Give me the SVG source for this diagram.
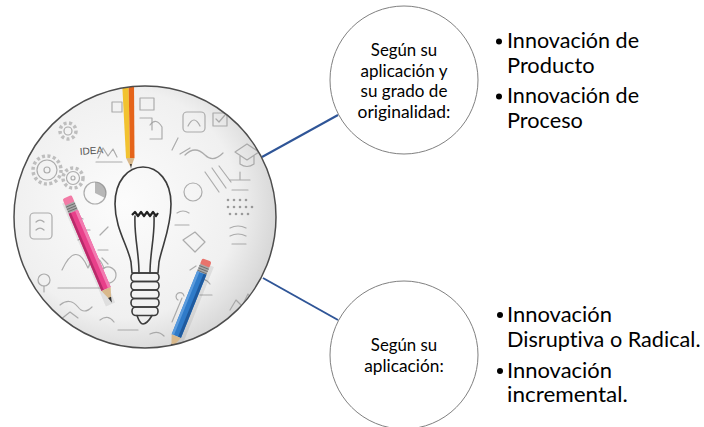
<svg xmlns="http://www.w3.org/2000/svg" width="704" height="427" viewBox="0 0 704 427">
<defs>
<style>
.lbl{font-family:Lato,"Liberation Sans",sans-serif;fill:#000;font-variant-ligatures:none;}
.small{font-size:16.4px;text-anchor:middle}
.big{font-size:20.8px}
.node{fill:#fff;stroke:#808080;stroke-width:1}
.conn{stroke:#2F5597;stroke-width:2;fill:none}
.doodle{fill:none;stroke:#9a9a9a;stroke-width:1.2;opacity:.8;stroke-linecap:round;stroke-linejoin:round}
.gear{fill:none;stroke:#b0b0b0;stroke-width:3.5;stroke-dasharray:3 2.5;opacity:.8}
.bulb{fill:none;stroke:#3c3c3c;stroke-width:1.6;stroke-linejoin:round;stroke-linecap:round}
.bullet{fill:#000}
</style>
<radialGradient id="bg" cx="0.42" cy="0.45" r="0.62">
<stop offset="0" stop-color="#fcfcfc"/>
<stop offset="0.7" stop-color="#f0f0f0"/>
<stop offset="1" stop-color="#d2d2d2"/>
</radialGradient>
<clipPath id="clipBig"><circle cx="145" cy="217" r="131"/></clipPath>
</defs>

<g id="connectors">
<line class="conn" x1="262" y1="157" x2="338" y2="115"/>
<line class="conn" x1="263" y1="278" x2="338" y2="320"/>
</g>

<g id="node-image">
<circle cx="145" cy="217" r="131" fill="url(#bg)"/>
<g clip-path="url(#clipBig)">
<g id="doodles">
<circle class="gear" cx="47" cy="170" r="14"/>
<circle class="doodle" cx="47" cy="170" r="10"/>
<circle class="doodle" cx="47" cy="170" r="3"/>
<circle class="gear" cx="73" cy="178" r="10"/>
<circle class="doodle" cx="73" cy="178" r="6.5"/>
<circle class="doodle" cx="73" cy="178" r="2"/>
<circle class="gear" cx="68" cy="131" r="8"/>
<circle class="doodle" cx="68" cy="131" r="4"/>
<text x="80" y="155" font-family="'Liberation Sans',sans-serif" font-size="10" fill="#555" transform="rotate(-4 80 155)">IDEA</text>
<polyline class="doodle" points="98,158 103,148 108,156 113,149 117,157"/>
<line class="doodle" x1="96" y1="162" x2="122" y2="162"/>
<circle class="doodle" cx="95" cy="193" r="11"/>
<path d="M95 193 L95 182 A11 11 0 0 1 105 198 Z" fill="#8a8a8a" opacity=".6"/>
<rect class="doodle" x="30" y="213" width="22" height="26" rx="4"/>
<path class="doodle" d="M36 222 q4 -4 8 0 M36 230 q4 -4 8 0"/>
<path class="doodle" d="M62 270 q14 -30 26 -2 q8 -20 16 0"/>
<line class="doodle" x1="58" y1="288" x2="104" y2="288"/>
<circle class="doodle" cx="44" cy="280" r="6"/>
<line class="doodle" x1="44" y1="286" x2="44" y2="292"/>
<path class="doodle" d="M60 305 q10 -8 18 2 q6 8 14 0"/>
<path class="doodle" d="M112 102 h10 v10 h-10 z M140 98 h14 v12 h-14 z M140 118 h12 v12"/>
<path class="doodle" d="M150 125 q6 -8 12 2 v12 h-12"/>
<rect class="doodle" x="183" y="112" width="22" height="20" rx="4"/>
<path class="doodle" d="M188 126 q6 -12 12 0"/>
<rect class="doodle" x="213" y="113" width="14" height="13"/>
<path class="doodle" d="M216 119 l3 3 l6 -7"/>
<path class="doodle" d="M235 152 l12 -8 l12 8 l-12 8 z M240 156 v8 q7 5 14 0 v-8"/>
<path class="doodle" d="M172 150 l6 -12 M180 154 l10 -6"/>
<path class="doodle" d="M185 155 q10 -10 20 0 q8 8 18 -2"/>
<circle class="doodle" cx="193" cy="192" r="9"/>
<path class="doodle" d="M205 172 l14 20 M212 168 l14 20 M219 166 l12 16"/>
<g fill="#777" opacity=".7">
<circle cx="228" cy="200" r="1.3"/><circle cx="234" cy="200" r="1.3"/><circle cx="240" cy="200" r="1.3"/><circle cx="246" cy="200" r="1.3"/>
<circle cx="228" cy="207" r="1.3"/><circle cx="234" cy="207" r="1.3"/><circle cx="240" cy="207" r="1.3"/><circle cx="246" cy="207" r="1.3"/><circle cx="252" cy="207" r="1.3"/>
<circle cx="230" cy="214" r="1.3"/><circle cx="236" cy="214" r="1.3"/><circle cx="242" cy="214" r="1.3"/><circle cx="248" cy="214" r="1.3"/>
</g>
<path class="doodle" d="M230 180 h20 M240 180 v-8 M232 190 h16"/>
<path class="doodle" d="M230 228 q8 -4 16 0 M230 236 q8 -4 16 0 M232 244 h14"/>
<path class="doodle" d="M183 240 l12 -8 l10 10 l-10 10 z"/>
<path class="doodle" d="M175 225 h14 M177 213 q6 -4 12 0"/>
<path class="doodle" d="M172 322 l10 -24 M178 300 a4 4 0 1 1 6 -4"/>
<path class="doodle" d="M230 310 l6 -10 l6 6 l6 -12 l6 8"/>
<path class="doodle" d="M100 320 q8 -6 14 2 M60 320 l10 -8 l8 6"/>
<path class="doodle" d="M118 330 h20 M150 334 q8 -4 14 2"/>
<path class="doodle" d="M75 215 l8 4 M80 230 h10 M78 240 l10 -4"/>
<path class="doodle" d="M100 235 l8 -8 M98 250 l10 0 M102 258 l6 6"/>
<path class="doodle" d="M100 275 a8 8 0 1 1 0 .1"/>
<path class="doodle" d="M190 270 l6 -4 M196 282 q8 -6 14 2 M200 295 h12"/>
</g>

<g id="bulb">
<path class="bulb" d="M143 167 C128 167 115 181 115 204 C115 228 128 246 131 262 L132 273 L158 273 L159 262 C162 246 171 228 171 204 C171 181 158 167 143 167 Z" fill="#fafafa"/>
<path class="bulb" d="M135 216 C134 236 139 252 139 273 M154 216 C155 236 150 252 150 273"/>
<path d="M132 215 l3 -3 l3 4 l3 -4 l3 4 l3 -4 l3 4 l3 -4 l3 4 l2 -3" fill="none" stroke="#222" stroke-width="2.2" stroke-linejoin="round"/>
<rect class="bulb" x="131" y="273" width="28" height="8.5" rx="4" fill="#f4f4f4"/>
<rect class="bulb" x="131" y="281.5" width="28" height="8.5" rx="4" fill="#f4f4f4"/>
<rect class="bulb" x="131" y="290" width="28" height="8.5" rx="4" fill="#f4f4f4"/>
<rect class="bulb" x="131" y="298.5" width="28" height="8.5" rx="4" fill="#f4f4f4"/>
<rect class="bulb" x="132" y="307" width="26" height="8.5" rx="4" fill="#f4f4f4"/>
<path class="bulb" d="M137 315.5 Q140 324 143 324 Q147 324 152 315.5"/>
</g>

<g id="pencil-top">
<polygon points="122,80 128.5,80 130,158 126,158" fill="#F2C230"/>
<polygon points="128.5,80 134,80 134.5,158 130,158" fill="#E5641A"/>
<polygon points="126,158 134.5,158 131.5,166 130,166" fill="#D9B98C"/>
<polygon points="130,164 131.8,164 131,169" fill="#333"/>
</g>

<g id="pencil-pink" transform="translate(67 197) rotate(67)">
<rect x="4" y="-3" width="112" height="10" fill="#000" opacity=".08"/>
<rect x="0" y="-5" width="8" height="10" rx="2" fill="#F27BA6"/>
<rect x="7" y="-5" width="9" height="10" fill="#a8a8a8"/>
<path d="M9 -5 v10 M11.5 -5 v10 M14 -5 v10" stroke="#666" stroke-width=".8"/>
<rect x="16" y="-5" width="84" height="10" fill="#E8408A"/>
<rect x="16" y="-5" width="84" height="3" fill="#F27AB0"/>
<rect x="16" y="2.5" width="84" height="2.5" fill="#B82A6A"/>
<polygon points="100,-5 100,5 110,1.2 110,-1.2" fill="#D9B98C"/>
<polygon points="109,-1.6 109,1.6 115,0" fill="#333"/>
</g>

<g id="pencil-blue" transform="translate(207 260) rotate(112)">
<rect x="4" y="-9" width="92" height="10" fill="#000" opacity=".08"/>
<rect x="0" y="-5" width="7" height="10" rx="2" fill="#E8736C"/>
<rect x="6" y="-5" width="8" height="10" fill="#a8a8a8"/>
<path d="M8 -5 v10 M10.5 -5 v10 M13 -5 v10" stroke="#666" stroke-width=".8"/>
<rect x="14" y="-5" width="68" height="10" fill="#2F7BC9"/>
<rect x="14" y="-5" width="68" height="3" fill="#1F5A9E"/>
<rect x="14" y="2.5" width="68" height="2.5" fill="#5A9BDD"/>
<polygon points="82,-5 82,5 92,1.2 92,-1.2" fill="#D9B98C"/>
<polygon points="91,-1.6 91,1.6 97,0" fill="#333"/>
</g>
</g>
<circle cx="145" cy="217" r="131" fill="none" stroke="#4d4d4d" stroke-width="1.5"/>
</g>

<g id="node-originalidad">
<circle class="node" cx="404" cy="80" r="74"/>
<text class="lbl small" x="404" y="56" textLength="66.3" lengthAdjust="spacingAndGlyphs">Según su</text>
<text class="lbl small" x="404" y="76.5" textLength="86.9" lengthAdjust="spacingAndGlyphs">aplicación y</text>
<text class="lbl small" x="404" y="97" textLength="86.8" lengthAdjust="spacingAndGlyphs">su grado de</text>
<text class="lbl small" x="404" y="117.5" textLength="92.8" lengthAdjust="spacingAndGlyphs">originalidad:</text>
</g>

<g id="node-aplicacion">
<circle class="node" cx="404" cy="355" r="74"/>
<text class="lbl small" x="404" y="351" textLength="66.3" lengthAdjust="spacingAndGlyphs">Según su</text>
<text class="lbl small" x="404" y="372" textLength="79.4" lengthAdjust="spacingAndGlyphs">aplicación:</text>
</g>

<g id="list-top">
<circle class="bullet" cx="499" cy="41.5" r="3"/>
<text class="lbl big" x="507" y="48" textLength="132" lengthAdjust="spacingAndGlyphs">Innovación de</text>
<text class="lbl big" x="507" y="73" textLength="87.6" lengthAdjust="spacingAndGlyphs">Producto</text>
<circle class="bullet" cx="499" cy="96.5" r="3"/>
<text class="lbl big" x="507" y="103" textLength="132" lengthAdjust="spacingAndGlyphs">Innovación de</text>
<text class="lbl big" x="507" y="128" textLength="75.9" lengthAdjust="spacingAndGlyphs">Proceso</text>
</g>

<g id="list-bottom">
<circle class="bullet" cx="500" cy="315" r="3"/>
<text class="lbl big" x="507" y="322" textLength="105" lengthAdjust="spacingAndGlyphs">Innovación</text>
<text class="lbl big" x="507" y="347" textLength="193.5" lengthAdjust="spacingAndGlyphs">Disruptiva o Radical.</text>
<circle class="bullet" cx="500" cy="371" r="3"/>
<text class="lbl big" x="507" y="378" textLength="105" lengthAdjust="spacingAndGlyphs">Innovación</text>
<text class="lbl big" x="507" y="402" textLength="120.8" lengthAdjust="spacingAndGlyphs">incremental.</text>
</g>
</svg>
